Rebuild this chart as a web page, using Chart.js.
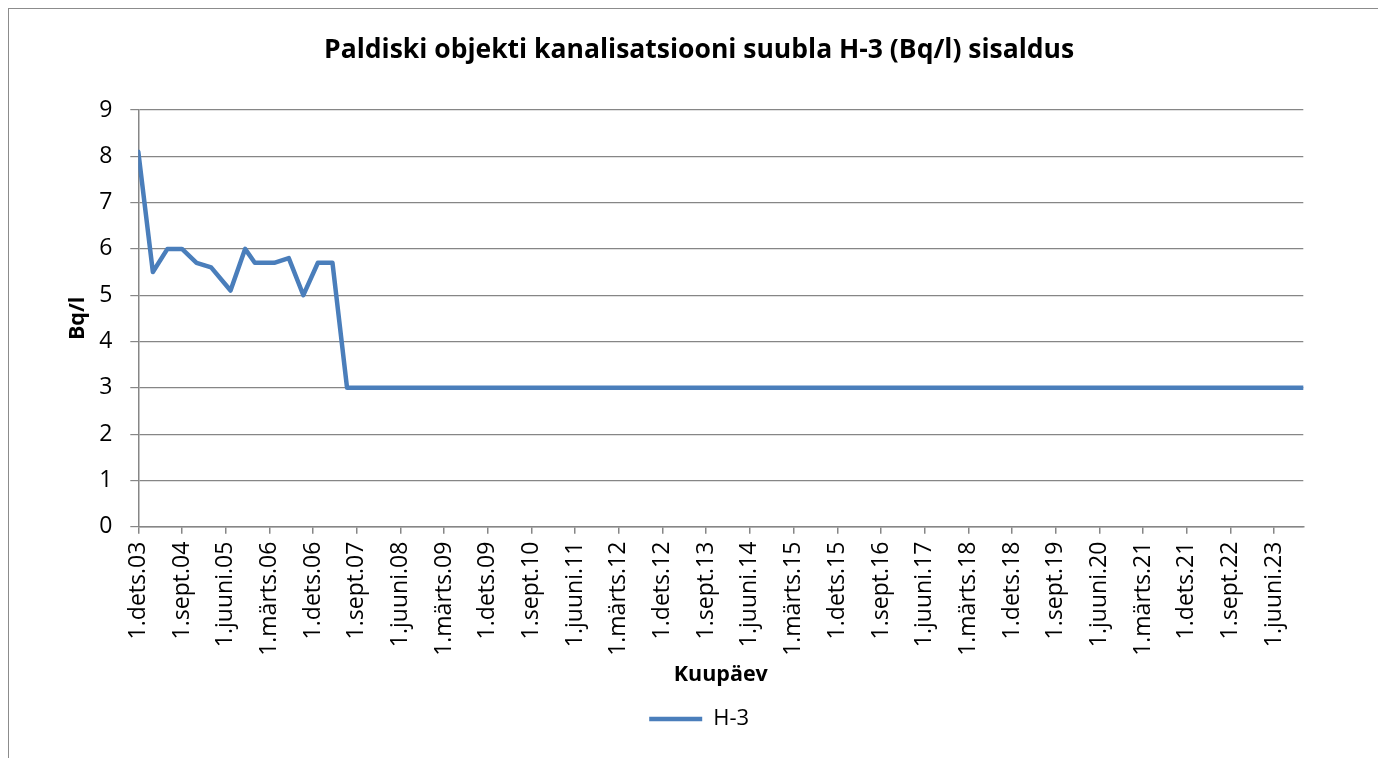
<!DOCTYPE html>
<html>
<head>
<meta charset="utf-8">
<title>Paldiski H-3</title>
<script src="https://cdn.jsdelivr.net/npm/chart.js@4.4.1/dist/chart.umd.min.js"></script>
<style>
  html, body { margin: 0; padding: 0; background: #fff; overflow: hidden; }
  body { width: 1378px; height: 758px; position: relative; }
  #frame {
    position: absolute; left: 8px; top: 8px; width: 1420px; height: 800px;
    border-left: 1px solid #8c8c8c; border-top: 1px solid #8c8c8c;
  }
  #chart { position: absolute; left: 0; top: 0; }
</style>
</head>
<body>
<div id="frame"><canvas id="chart" width="1378" height="758"></canvas></div>
<script>
// sampling dates (year-month) and H-3 content, Bq/l
const measureDates = [
  "2003-12", "2004-03", "2004-06", "2004-09", "2004-12", "2005-03", "2005-07", "2005-10",
  "2005-12", "2006-04", "2006-07", "2006-10", "2007-01", "2007-04", "2007-07", "2007-10",
  "2008-01", "2008-04", "2008-07", "2008-10", "2009-01", "2009-04", "2009-07", "2009-10",
  "2010-01", "2010-04", "2010-07", "2010-10", "2011-01", "2011-04", "2011-07", "2011-10",
  "2012-01", "2012-04", "2012-07", "2012-10", "2013-01", "2013-04", "2013-07", "2013-10",
  "2014-01", "2014-04", "2014-07", "2014-10", "2015-01", "2015-04", "2015-07", "2015-10",
  "2016-01", "2016-04", "2016-07", "2016-10", "2017-01", "2017-04", "2017-07", "2017-10",
  "2018-01", "2018-04", "2018-07", "2018-10", "2019-01", "2019-04", "2019-07", "2019-10",
  "2020-01", "2020-04", "2020-07", "2020-10", "2021-01", "2021-04", "2021-07", "2021-10",
  "2022-01", "2022-04", "2022-07", "2022-10", "2023-01", "2023-04", "2023-07", "2023-10",
  "2023-12"
]
const h3Values = [
  8.1, 5.5, 6.0, 6.0, 5.7, 5.6, 5.1, 6.0,
  5.7, 5.7, 5.8, 5.0, 5.7, 5.7, 3.0, 3.0,
  3.0, 3.0, 3.0, 3.0, 3.0, 3.0, 3.0, 3.0,
  3.0, 3.0, 3.0, 3.0, 3.0, 3.0, 3.0, 3.0,
  3.0, 3.0, 3.0, 3.0, 3.0, 3.0, 3.0, 3.0,
  3.0, 3.0, 3.0, 3.0, 3.0, 3.0, 3.0, 3.0,
  3.0, 3.0, 3.0, 3.0, 3.0, 3.0, 3.0, 3.0,
  3.0, 3.0, 3.0, 3.0, 3.0, 3.0, 3.0, 3.0,
  3.0, 3.0, 3.0, 3.0, 3.0, 3.0, 3.0, 3.0,
  3.0, 3.0, 3.0, 3.0, 3.0, 3.0, 3.0, 3.0,
  3.0
]
// x axis labels, one every 9 months starting at 1.dets.03
const xTickLabels = [
  "1.dets.03", "1.sept.04", "1.juuni.05", "1.märts.06", "1.dets.06", "1.sept.07",
  "1.juuni.08", "1.märts.09", "1.dets.09", "1.sept.10", "1.juuni.11", "1.märts.12",
  "1.dets.12", "1.sept.13", "1.juuni.14", "1.märts.15", "1.dets.15", "1.sept.16",
  "1.juuni.17", "1.märts.18", "1.dets.18", "1.sept.19", "1.juuni.20", "1.märts.21",
  "1.dets.21", "1.sept.22", "1.juuni.23"
]
const yTicks = [0, 1, 2, 3, 4, 5, 6, 7, 8, 9]

const FONT = "'Open Sans', sans-serif"
const GRAY = "#868686"
const BLUE = "#4A7EBB"

// months counted from december 2003
function monthIndex(ym) {
  const [y, m] = ym.split("-").map(Number)
  return (y - 2003) * 12 + (m - 12)
}

const points = measureDates.map((d, i) => ({ x: monthIndex(d), y: h3Values[i] }))

new Chart(document.getElementById("chart"), {
  type: "line",
  data: {
    datasets: [{
      label: "H-3",
      data: points,
      borderColor: BLUE,
      backgroundColor: BLUE,
      borderWidth: 4.5,
      borderCapStyle: "round",
      borderJoinStyle: "round",
      pointRadius: 0,
      tension: 0
    }]
  },
  options: {
    responsive: false,
    animation: false,
    layout: { padding: { left: 86, right: 83.7, top: 0, bottom: 27 } },
    scales: {
      x: {
        type: "linear",
        min: 0,
        max: 240,
        ticks: {
          stepSize: 9,
          includeBounds: false,
          autoSkip: false,
          maxTicksLimit: 100,
          minRotation: 90,
          maxRotation: 90,
          padding: 8,
          color: "#000",
          font: { family: FONT, size: 23 },
          callback: v => xTickLabels[Math.round(v / 9)] ?? ""
        },
        grid: { drawOnChartArea: false, drawTicks: true, tickLength: 7, color: GRAY, lineWidth: 1.5 },
        border: { color: GRAY, width: 1.5 },
        title: {
          display: true,
          text: "Kuupäev",
          color: "#000",
          padding: { top: 0, bottom: 16.1 },
          font: { family: FONT, size: 21.5, weight: "bold" }
        },
        afterFit: s => { s.height = 177.3 }
      },
      y: {
        min: 0,
        max: 9,
        afterBuildTicks: s => { s.ticks = yTicks.map(v => ({ value: v })) },
        ticks: {
          padding: 18,
          color: "#000",
          font: { family: FONT, size: 23 }
        },
        grid: { color: GRAY, tickLength: 8, lineWidth: 1.2 },
        border: { color: GRAY, width: 1.5 },
        title: {
          display: true,
          text: "Bq/l",
          color: "#000",
          padding: { top: -29.9, bottom: 0 },
          font: { family: FONT, size: 21.5, weight: "bold" }
        },
        afterFit: s => { s.width = 43.3 }
      }
    },
    plugins: {
      title: {
        display: true,
        text: "Paldiski objekti kanalisatsiooni suubla H-3 (Bq/l) sisaldus",
        color: "#000",
        font: { family: FONT, size: 26.5, weight: "bold" },
        padding: { top: 25.6, bottom: 43.6 }
      },
      legend: {
        position: "bottom",
        labels: {
          usePointStyle: true,
          pointStyle: "line",
          pointStyleWidth: 53,
          color: "#000",
          padding: 4,
          font: { family: FONT, size: 22 }
        }
      },
      tooltip: { enabled: false }
    }
  }
})
</script>
</body>
</html>
